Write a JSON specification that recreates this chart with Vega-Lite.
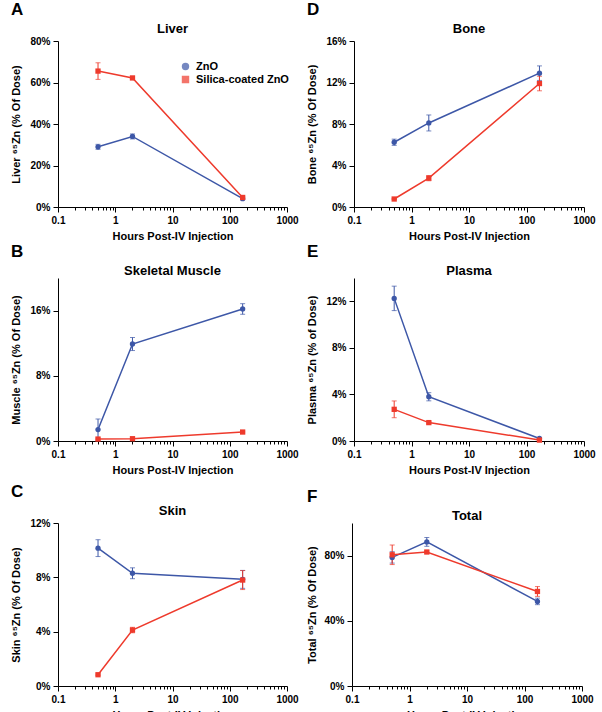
{
  "$schema": "https://vega.github.io/schema/vega-lite/v6.json",
  "padding": {"left": 10, "top": 1, "right": 4, "bottom": 2},
  "background": "white",
  "config": {
    "font": "Liberation Sans",
    "view": {"stroke": null},
    "axis": {"grid": false, "labelOverlap": false, "labelFont": "Liberation Sans", "labelFontWeight": "bold", "labelFontSize": 10, "labelColor": "#000", "titleFont": "Liberation Sans", "titleFontWeight": "bold", "titleFontSize": 11, "titleColor": "#000", "domainColor": "#000", "tickColor": "#000", "labelPadding": 3, "tickSize": 5},
    "title": {"font": "Liberation Sans", "fontWeight": "bold", "color": "#000"},
    "legend": {"labelFont": "Liberation Sans", "labelFontWeight": "bold", "labelFontSize": 11, "labelColor": "#000"}
  },
  "datasets": {
    "d": [
      {"panel": "A", "series": "ZnO", "hours": 0.5, "v": 29.0, "e": 1.2},
      {"panel": "A", "series": "ZnO", "hours": 2, "v": 34.0, "e": 1.2},
      {"panel": "A", "series": "ZnO", "hours": 168, "v": 4.0, "e": 0.5},
      {"panel": "A", "series": "Silica-coated ZnO", "hours": 0.5, "v": 65.5, "e": 4.0},
      {"panel": "A", "series": "Silica-coated ZnO", "hours": 2, "v": 62.2, "e": 0.6},
      {"panel": "A", "series": "Silica-coated ZnO", "hours": 168, "v": 4.6, "e": 0.5},
      {"panel": "B", "series": "ZnO", "hours": 0.5, "v": 1.4, "e": 1.3},
      {"panel": "B", "series": "ZnO", "hours": 2, "v": 11.9, "e": 0.8},
      {"panel": "B", "series": "ZnO", "hours": 168, "v": 16.2, "e": 0.65},
      {"panel": "B", "series": "Silica-coated ZnO", "hours": 0.5, "v": 0.24, "e": 0.1},
      {"panel": "B", "series": "Silica-coated ZnO", "hours": 2, "v": 0.28, "e": 0.1},
      {"panel": "B", "series": "Silica-coated ZnO", "hours": 168, "v": 1.1, "e": 0.1},
      {"panel": "C", "series": "ZnO", "hours": 0.5, "v": 10.15, "e": 0.62},
      {"panel": "C", "series": "ZnO", "hours": 2, "v": 8.3, "e": 0.4},
      {"panel": "C", "series": "ZnO", "hours": 168, "v": 7.85, "e": 0.66},
      {"panel": "C", "series": "Silica-coated ZnO", "hours": 0.5, "v": 0.83, "e": 0.05},
      {"panel": "C", "series": "Silica-coated ZnO", "hours": 2, "v": 4.12, "e": 0.2},
      {"panel": "C", "series": "Silica-coated ZnO", "hours": 168, "v": 7.8, "e": 0.7},
      {"panel": "D", "series": "ZnO", "hours": 0.5, "v": 6.24, "e": 0.3},
      {"panel": "D", "series": "ZnO", "hours": 2, "v": 8.1, "e": 0.77},
      {"panel": "D", "series": "ZnO", "hours": 168, "v": 12.9, "e": 0.7},
      {"panel": "D", "series": "Silica-coated ZnO", "hours": 0.5, "v": 0.77, "e": 0.05},
      {"panel": "D", "series": "Silica-coated ZnO", "hours": 2, "v": 2.78, "e": 0.25},
      {"panel": "D", "series": "Silica-coated ZnO", "hours": 168, "v": 11.9, "e": 0.7},
      {"panel": "E", "series": "ZnO", "hours": 0.5, "v": 12.25, "e": 1.05},
      {"panel": "E", "series": "ZnO", "hours": 2, "v": 3.8, "e": 0.35},
      {"panel": "E", "series": "ZnO", "hours": 168, "v": 0.22, "e": 0.05},
      {"panel": "E", "series": "Silica-coated ZnO", "hours": 0.5, "v": 2.72, "e": 0.72},
      {"panel": "E", "series": "Silica-coated ZnO", "hours": 2, "v": 1.58, "e": 0.1},
      {"panel": "E", "series": "Silica-coated ZnO", "hours": 168, "v": 0.08, "e": 0.03},
      {"panel": "F", "series": "ZnO", "hours": 0.5, "v": 78.9, "e": 3.5},
      {"panel": "F", "series": "ZnO", "hours": 2, "v": 88.4, "e": 2.7},
      {"panel": "F", "series": "ZnO", "hours": 168, "v": 51.9, "e": 2.0},
      {"panel": "F", "series": "Silica-coated ZnO", "hours": 0.5, "v": 80.5, "e": 6.0},
      {"panel": "F", "series": "Silica-coated ZnO", "hours": 2, "v": 82.2, "e": 0.6},
      {"panel": "F", "series": "Silica-coated ZnO", "hours": 168, "v": 58.0, "e": 3.0}
    ]
  },
  "data": {"name": "d"},
  "spacing": 2,
  "vconcat": [
    {
      "spacing": 7,
      "hconcat": [
        {
          "title": {"text": "A", "anchor": "start", "fontSize": 17, "offset": 4},
          "vconcat": [{
            "width": 229, "height": 166,
            "title": {"text": "Liver", "fontSize": 13, "offset": 0, "frame": "group"},
            "transform": [{"filter": "datum.panel == 'A'"}],
            "encoding": {
              "x": {"field": "hours", "type": "quantitative", "scale": {"type": "log", "domain": [0.1, 1000]},
                "axis": {"title": "Hours Post-IV Injection", "values": [0.1,0.2,0.3,0.4,0.5,0.6,0.7,0.8,0.9,1,2,3,4,5,6,7,8,9,10,20,30,40,50,60,70,80,90,100,200,300,400,500,600,700,800,900,1000], "labelExpr": "abs(log(datum.value)/LN10 - round(log(datum.value)/LN10)) < 0.000001 ? format(datum.value, '~g') : ''", "tickSize": {"condition": {"test": "abs(log(datum.value)/LN10 - round(log(datum.value)/LN10)) < 0.000001", "value": 5}, "value": 3}, "labelOverlap": false, "labelFlush": false, "titlePadding": 5}},
              "color": {"field": "series", "type": "nominal", "scale": {"domain": ["ZnO", "Silica-coated ZnO"], "range": ["#3D57A7", "#EE3A2C"]},
                "legend": {"orient": "none", "legendX": 122, "legendY": 20, "title": null, "symbolSize": 35, "rowPadding": 0, "labelOffset": 5}}
            },
            "layer": [
              {"mark": {"type": "errorbar", "ticks": {"size": 5}, "thickness": 1},
                "encoding": {"y": {"field": "v", "type": "quantitative", "scale": {"domain": [0, 80], "nice": false},
                  "axis": {"title": "Liver ⁶⁵Zn (% Of Dose)", "values": [0, 20, 40, 60, 80], "labelExpr": "datum.value + '%'", "titlePadding": 8}},
                  "yError": {"field": "e"}}},
              {"mark": {"type": "line", "strokeWidth": 1.5}, "encoding": {"y": {"field": "v", "type": "quantitative"}}},
              {"mark": {"type": "point", "filled": true, "opacity": 1}, "encoding": {"y": {"field": "v", "type": "quantitative"}, "shape": {"field": "series", "type": "nominal", "scale": {"domain": ["ZnO", "Silica-coated ZnO"], "range": ["circle", "square"]}, "legend": null}, "size": {"value": 28}}}
            ]
          }]
        },
        {
          "title": {"text": "D", "anchor": "start", "fontSize": 17, "offset": 4},
          "vconcat": [{
            "width": 230, "height": 166,
            "title": {"text": "Bone", "fontSize": 13, "offset": 0, "frame": "group"},
            "transform": [{"filter": "datum.panel == 'D'"}],
            "encoding": {
              "x": {"field": "hours", "type": "quantitative", "scale": {"type": "log", "domain": [0.1, 1000]},
                "axis": {"title": "Hours Post-IV Injection", "values": [0.1,0.2,0.3,0.4,0.5,0.6,0.7,0.8,0.9,1,2,3,4,5,6,7,8,9,10,20,30,40,50,60,70,80,90,100,200,300,400,500,600,700,800,900,1000], "labelExpr": "abs(log(datum.value)/LN10 - round(log(datum.value)/LN10)) < 0.000001 ? format(datum.value, '~g') : ''", "tickSize": {"condition": {"test": "abs(log(datum.value)/LN10 - round(log(datum.value)/LN10)) < 0.000001", "value": 5}, "value": 3}, "labelOverlap": false, "labelFlush": false, "titlePadding": 5}},
              "color": {"field": "series", "type": "nominal", "scale": {"domain": ["ZnO", "Silica-coated ZnO"], "range": ["#3D57A7", "#EE3A2C"]}, "legend": null}
            },
            "layer": [
              {"mark": {"type": "errorbar", "ticks": {"size": 5}, "thickness": 1},
                "encoding": {"y": {"field": "v", "type": "quantitative", "scale": {"domain": [0, 16], "nice": false},
                  "axis": {"title": "Bone ⁶⁵Zn (% Of Dose)", "values": [0, 4, 8, 12, 16], "labelExpr": "datum.value + '%'", "titlePadding": 8}},
                  "yError": {"field": "e"}}},
              {"mark": {"type": "line", "strokeWidth": 1.5}, "encoding": {"y": {"field": "v", "type": "quantitative"}}},
              {"mark": {"type": "point", "filled": true, "opacity": 1}, "encoding": {"y": {"field": "v", "type": "quantitative"}, "shape": {"field": "series", "type": "nominal", "scale": {"domain": ["ZnO", "Silica-coated ZnO"], "range": ["circle", "square"]}, "legend": null}, "size": {"value": 28}}}
            ]
          }]
        }
      ]
    },
    {
      "spacing": 8,
      "vconcat": [
        {
          "spacing": 7,
          "hconcat": [
            {
              "title": {"text": "B", "anchor": "start", "fontSize": 17, "offset": 4},
              "vconcat": [{
                "width": 229, "height": 163,
                "title": {"text": "Skeletal Muscle", "fontSize": 13, "offset": 0, "frame": "group"},
                "transform": [{"filter": "datum.panel == 'B'"}],
                "encoding": {
                  "x": {"field": "hours", "type": "quantitative", "scale": {"type": "log", "domain": [0.1, 1000]},
                    "axis": {"title": "Hours Post-IV Injection", "values": [0.1,0.2,0.3,0.4,0.5,0.6,0.7,0.8,0.9,1,2,3,4,5,6,7,8,9,10,20,30,40,50,60,70,80,90,100,200,300,400,500,600,700,800,900,1000], "labelExpr": "abs(log(datum.value)/LN10 - round(log(datum.value)/LN10)) < 0.000001 ? format(datum.value, '~g') : ''", "tickSize": {"condition": {"test": "abs(log(datum.value)/LN10 - round(log(datum.value)/LN10)) < 0.000001", "value": 5}, "value": 3}, "labelOverlap": false, "labelFlush": false, "titlePadding": 5}},
                  "color": {"field": "series", "type": "nominal", "scale": {"domain": ["ZnO", "Silica-coated ZnO"], "range": ["#3D57A7", "#EE3A2C"]}, "legend": null}
                },
                "layer": [
                  {"mark": {"type": "errorbar", "ticks": {"size": 5}, "thickness": 1},
                    "encoding": {"y": {"field": "v", "type": "quantitative", "scale": {"domain": [0, 20], "nice": false},
                      "axis": {"title": "Muscle ⁶⁵Zn (% Of Dose)", "values": [0, 4, 8, 12, 16, 20], "labelExpr": "datum.value + '%'", "titlePadding": 8}},
                      "yError": {"field": "e"}}},
                  {"mark": {"type": "line", "strokeWidth": 1.5}, "encoding": {"y": {"field": "v", "type": "quantitative"}}},
                  {"mark": {"type": "point", "filled": true, "opacity": 1}, "encoding": {"y": {"field": "v", "type": "quantitative"}, "shape": {"field": "series", "type": "nominal", "scale": {"domain": ["ZnO", "Silica-coated ZnO"], "range": ["circle", "square"]}, "legend": null}, "size": {"value": 28}}}
                ]
              }]
            },
            {
              "title": {"text": "E", "anchor": "start", "fontSize": 17, "offset": 4},
              "vconcat": [{
                "width": 230, "height": 163,
                "title": {"text": "Plasma", "fontSize": 13, "offset": 0, "frame": "group"},
                "transform": [{"filter": "datum.panel == 'E'"}],
                "encoding": {
                  "x": {"field": "hours", "type": "quantitative", "scale": {"type": "log", "domain": [0.1, 1000]},
                    "axis": {"title": "Hours Post-IV Injection", "values": [0.1,0.2,0.3,0.4,0.5,0.6,0.7,0.8,0.9,1,2,3,4,5,6,7,8,9,10,20,30,40,50,60,70,80,90,100,200,300,400,500,600,700,800,900,1000], "labelExpr": "abs(log(datum.value)/LN10 - round(log(datum.value)/LN10)) < 0.000001 ? format(datum.value, '~g') : ''", "tickSize": {"condition": {"test": "abs(log(datum.value)/LN10 - round(log(datum.value)/LN10)) < 0.000001", "value": 5}, "value": 3}, "labelOverlap": false, "labelFlush": false, "titlePadding": 5}},
                  "color": {"field": "series", "type": "nominal", "scale": {"domain": ["ZnO", "Silica-coated ZnO"], "range": ["#3D57A7", "#EE3A2C"]}, "legend": null}
                },
                "layer": [
                  {"mark": {"type": "errorbar", "ticks": {"size": 5}, "thickness": 1},
                    "encoding": {"y": {"field": "v", "type": "quantitative", "scale": {"domain": [0, 14], "nice": false},
                      "axis": {"title": "Plasma ⁶⁵Zn (% of Dose)", "values": [0, 2, 4, 6, 8, 10, 12, 14], "labelExpr": "datum.value + '%'", "titlePadding": 8}},
                      "yError": {"field": "e"}}},
                  {"mark": {"type": "line", "strokeWidth": 1.5}, "encoding": {"y": {"field": "v", "type": "quantitative"}}},
                  {"mark": {"type": "point", "filled": true, "opacity": 1}, "encoding": {"y": {"field": "v", "type": "quantitative"}, "shape": {"field": "series", "type": "nominal", "scale": {"domain": ["ZnO", "Silica-coated ZnO"], "range": ["circle", "square"]}, "legend": null}, "size": {"value": 28}}}
                ]
              }]
            }
          ]
        },
        {
          "spacing": 7,
          "hconcat": [
            {
              "title": {"text": "C", "anchor": "start", "fontSize": 17, "offset": 4},
              "vconcat": [{
                "width": 229, "height": 163,
                "title": {"text": "Skin", "fontSize": 13, "offset": 0, "frame": "group"},
                "transform": [{"filter": "datum.panel == 'C'"}],
                "encoding": {
                  "x": {"field": "hours", "type": "quantitative", "scale": {"type": "log", "domain": [0.1, 1000]},
                    "axis": {"title": "Hours Post-IV Injection", "values": [0.1,0.2,0.3,0.4,0.5,0.6,0.7,0.8,0.9,1,2,3,4,5,6,7,8,9,10,20,30,40,50,60,70,80,90,100,200,300,400,500,600,700,800,900,1000], "labelExpr": "abs(log(datum.value)/LN10 - round(log(datum.value)/LN10)) < 0.000001 ? format(datum.value, '~g') : ''", "tickSize": {"condition": {"test": "abs(log(datum.value)/LN10 - round(log(datum.value)/LN10)) < 0.000001", "value": 5}, "value": 3}, "labelOverlap": false, "labelFlush": false, "titlePadding": 5}},
                  "color": {"field": "series", "type": "nominal", "scale": {"domain": ["ZnO", "Silica-coated ZnO"], "range": ["#3D57A7", "#EE3A2C"]}, "legend": null}
                },
                "layer": [
                  {"mark": {"type": "errorbar", "ticks": {"size": 5}, "thickness": 1},
                    "encoding": {"y": {"field": "v", "type": "quantitative", "scale": {"domain": [0, 12], "nice": false},
                      "axis": {"title": "Skin ⁶⁵Zn (% Of Dose)", "values": [0, 2, 4, 6, 8, 10, 12], "labelExpr": "datum.value + '%'", "titlePadding": 8}},
                      "yError": {"field": "e"}}},
                  {"mark": {"type": "line", "strokeWidth": 1.5}, "encoding": {"y": {"field": "v", "type": "quantitative"}}},
                  {"mark": {"type": "point", "filled": true, "opacity": 1}, "encoding": {"y": {"field": "v", "type": "quantitative"}, "shape": {"field": "series", "type": "nominal", "scale": {"domain": ["ZnO", "Silica-coated ZnO"], "range": ["circle", "square"]}, "legend": null}, "size": {"value": 28}}}
                ]
              }]
            },
            {
              "title": {"text": "F", "anchor": "start", "fontSize": 17, "offset": 4},
              "vconcat": [{
                "width": 230, "height": 163,
                "title": {"text": "Total", "fontSize": 13, "offset": 0, "frame": "group"},
                "transform": [{"filter": "datum.panel == 'F'"}],
                "encoding": {
                  "x": {"field": "hours", "type": "quantitative", "scale": {"type": "log", "domain": [0.1, 1000]},
                    "axis": {"title": "Hours Post-IV Injection", "values": [0.1,0.2,0.3,0.4,0.5,0.6,0.7,0.8,0.9,1,2,3,4,5,6,7,8,9,10,20,30,40,50,60,70,80,90,100,200,300,400,500,600,700,800,900,1000], "labelExpr": "abs(log(datum.value)/LN10 - round(log(datum.value)/LN10)) < 0.000001 ? format(datum.value, '~g') : ''", "tickSize": {"condition": {"test": "abs(log(datum.value)/LN10 - round(log(datum.value)/LN10)) < 0.000001", "value": 5}, "value": 3}, "labelOverlap": false, "labelFlush": false, "titlePadding": 5}},
                  "color": {"field": "series", "type": "nominal", "scale": {"domain": ["ZnO", "Silica-coated ZnO"], "range": ["#3D57A7", "#EE3A2C"]}, "legend": null}
                },
                "layer": [
                  {"mark": {"type": "errorbar", "ticks": {"size": 5}, "thickness": 1},
                    "encoding": {"y": {"field": "v", "type": "quantitative", "scale": {"domain": [0, 100], "nice": false},
                      "axis": {"title": "Total ⁶⁵Zn (% Of Dose)", "values": [0, 20, 40, 60, 80, 100], "labelExpr": "datum.value + '%'", "titlePadding": 6}},
                      "yError": {"field": "e"}}},
                  {"mark": {"type": "line", "strokeWidth": 1.5}, "encoding": {"y": {"field": "v", "type": "quantitative"}}},
                  {"mark": {"type": "point", "filled": true, "opacity": 1}, "encoding": {"y": {"field": "v", "type": "quantitative"}, "shape": {"field": "series", "type": "nominal", "scale": {"domain": ["ZnO", "Silica-coated ZnO"], "range": ["circle", "square"]}, "legend": null}, "size": {"value": 28}}}
                ]
              }]
            }
          ]
        }
      ]
    }
  ]
}
